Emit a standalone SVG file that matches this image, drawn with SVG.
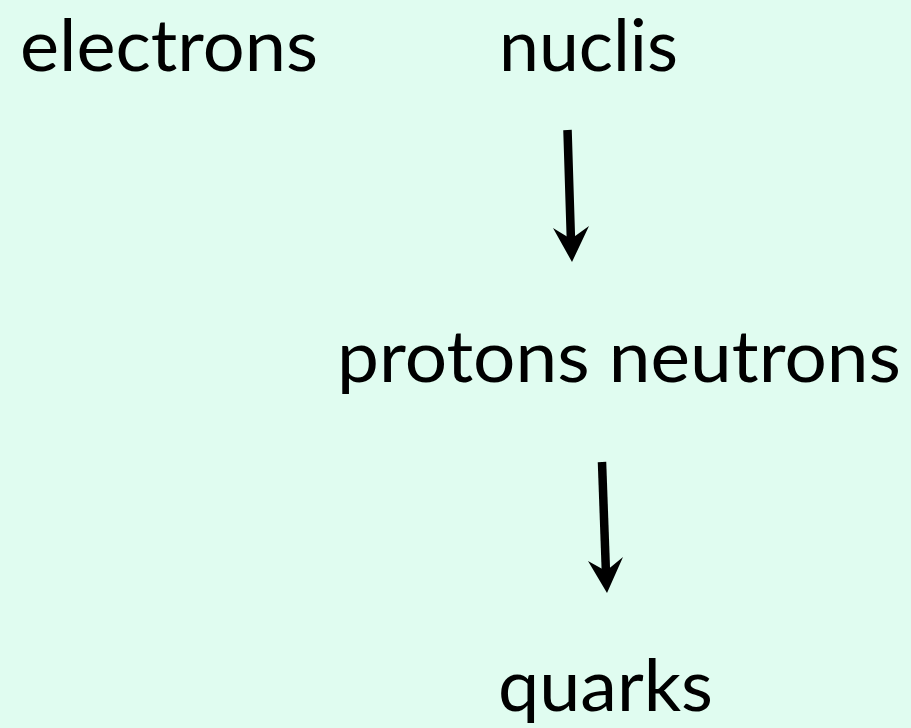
<svg xmlns="http://www.w3.org/2000/svg" width="911" height="728" viewBox="0 0 911 728">
<style>
.t{font-family:"Lato","Open Sans","Liberation Sans",sans-serif;font-size:72px;fill:#000}
.top{font-size:71px}
.shaft{stroke:#000;stroke-width:8.5;fill:none}
.head{fill:#000}
</style>
<rect width="911" height="728" fill="#e0fcf0"/>
<g id="electrons"><text class="t top" x="20" y="71" textLength="298" lengthAdjust="spacingAndGlyphs">electrons</text></g>
<g id="nuclis"><text class="t top" x="499" y="71" textLength="179" lengthAdjust="spacingAndGlyphs">nuclis</text></g>
<g id="protons-neutrons"><text class="t" x="337" y="382" textLength="564" lengthAdjust="spacingAndGlyphs">protons neutrons</text></g>
<g id="quarks"><text class="t" x="498" y="711" textLength="215" lengthAdjust="spacingAndGlyphs">quarks</text></g>
<g id="connectors">
<line class="shaft" x1="567.5" y1="130" x2="571" y2="242"/>
<path class="head" d="M572,262 L553,228 L571,239 L589,226 Z"/>
<line class="shaft" x1="602" y1="462" x2="606" y2="574"/>
<path class="head" d="M607,593 L588,561 L606,571 L623,557 Z"/>
</g>
</svg>
